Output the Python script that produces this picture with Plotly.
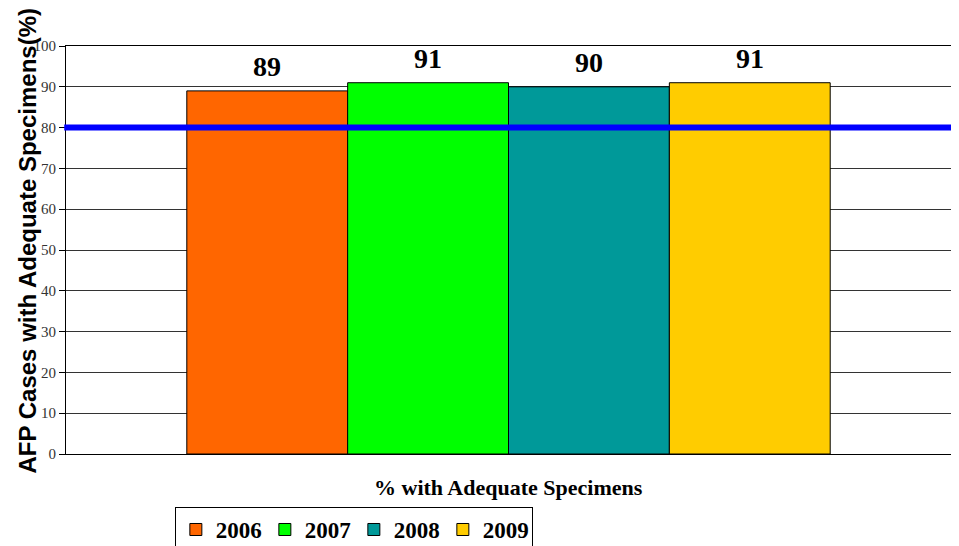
import plotly.graph_objects as go

years = ["2006", "2007", "2008", "2009"]
values = [89, 91, 90, 91]
colors = ["#FF6600", "#00FF00", "#009999", "#FFCC00"]
category = ["% with Adequate Specimens"]
target = 80
y_ticks = [0, 10, 20, 30, 40, 50, 60, 70, 80, 90, 100]
y_title = "AFP Cases with Adequate Specimens(%)"
x_title = "% with Adequate Specimens"

fig = go.Figure()
for yr, v, c in zip(years, values, colors):
    fig.add_trace(go.Bar(
        name=f"<b>{yr}</b>", x=category, y=[v],
        marker=dict(color=c, line=dict(color="#000000", width=1)),
    ))

# value labels
for i, (yr, v) in enumerate(zip(years, values)):
    fig.add_annotation(
        x=(i - 1.5) * 0.727 / 4, xref="x", y=v, yref="y",
        text=f"<b>{v}</b>", showarrow=False, yanchor="bottom", yshift=7,
        font=dict(family="Liberation Serif", size=28, color="#000000"),
    )

# y title as rotated annotation
fig.add_annotation(
    xref="paper", yref="paper", x=-0.044, y=0.521, xanchor="center", yanchor="middle",
    text=f"<b>{y_title}</b>", textangle=-90, showarrow=False,
    font=dict(family="Liberation Sans", size=24, color="#000000"),
)
# x title
fig.add_annotation(
    xref="paper", yref="paper", x=0.5, y=0, yshift=-33, xanchor="center", yanchor="middle",
    text=f"<b>{x_title}</b>", showarrow=False,
    font=dict(family="Liberation Serif", size=22, color="#000000"),
)

fig.add_shape(type="line", xref="paper", yref="y", x0=-0.002, x1=1.008, y0=target, y1=target,
              line=dict(color="#0000FF", width=6), layer="above")

fig.update_layout(
    width=951, height=538,
    margin=dict(l=58, r=8, t=38, b=92, autoexpand=False),
    paper_bgcolor="white", plot_bgcolor="white",
    barmode="group", bargap=0.273, bargroupgap=0,
    showlegend=True,
    legend=dict(orientation="h", x=0.123, y=-0.13, xanchor="left", yanchor="top",
                bordercolor="#000000", borderwidth=1, bgcolor="white",
                font=dict(family="Liberation Serif", size=23, color="#000000"),
                tracegroupgap=0, itemwidth=30, entrywidth=44, entrywidthmode="pixels"),
    xaxis=dict(type="category", showticklabels=False, showline=True, linecolor="#000000",
               mirror=True, linewidth=1, ticks="", automargin=False),
    yaxis=dict(range=[0, 100], tickvals=y_ticks, showgrid=True, gridcolor="#333333", gridwidth=1,
               showline=True, linecolor="#000000", mirror=True, linewidth=1, automargin=False,
               ticks="outside", ticklen=6, tickcolor="#000000",
               tickfont=dict(family="Liberation Serif", size=15, color="#333333")),
)

fig.write_html("out.html")
